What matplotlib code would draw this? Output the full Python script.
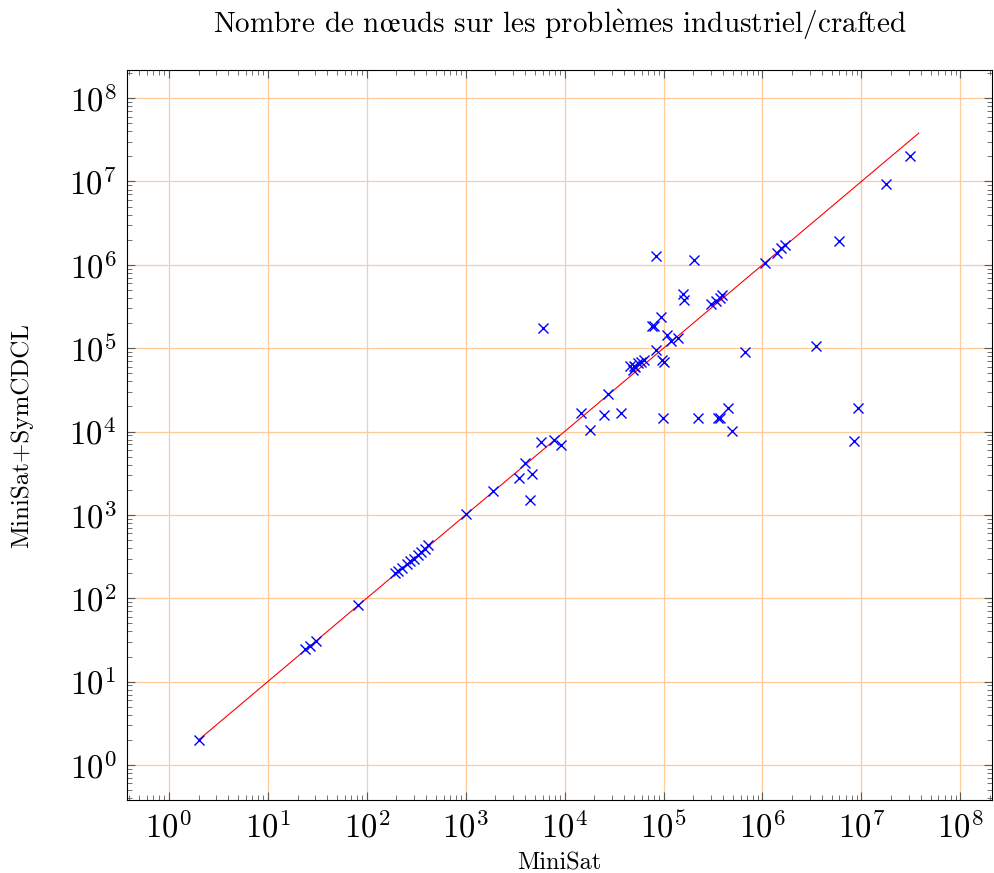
import matplotlib
matplotlib.use('Agg')
import matplotlib.pyplot as plt
import matplotlib.ticker as mticker
import numpy as np

plt.rcParams['mathtext.fontset'] = 'cm'
plt.rcParams['font.family'] = ['cmr10', 'DejaVu Serif']
plt.rcParams['axes.formatter.use_mathtext'] = True

# noeuds explores : MiniSat (x) contre MiniSat+SymCDCL (y)
minisat = [2, 24, 27, 31, 81,
           195, 205, 225, 255, 275, 300, 330, 355, 385, 420,
           1000, 1870, 3450, 4000, 4450, 4700, 5800, 6100, 7800, 9100,
           14600, 17900, 25000, 27600, 37000,
           45700, 48600, 50000, 52000, 55000, 59000, 63000,
           76000, 80000, 83000, 83000, 94000, 96000, 100000, 98000,
           108000, 118000, 139000, 156000, 160000, 201000, 223000,
           302000, 340000, 370000, 390000, 355000, 370000, 445000, 490000,
           660000, 1.05e6, 1.4e6, 1.55e6, 1.68e6, 3.45e6, 5.9e6,
           8.5e6, 9.3e6, 1.78e7, 3.1e7]
symcdcl = [2, 24.5, 27, 31, 82,
           200, 210, 230, 255, 280, 300, 330, 360, 390, 430,
           1030, 1930, 2740, 4150, 1490, 3100, 7400, 175000, 7900, 6900,
           16700, 10400, 15900, 28600, 16700,
           60600, 54500, 62000, 59000, 66000, 69000, 72000,
           186000, 186000, 96000, 1.26e6, 240000, 72000, 69000, 14700,
           145000, 122000, 134000, 445000, 378000, 1.14e6, 14700,
           340000, 370000, 405000, 435000, 14400, 14700, 19400, 10200,
           91000, 1.04e6, 1.4e6, 1.58e6, 1.72e6, 1.07e5, 1.91e6,
           7600, 19400, 9.4e6, 2.0e7]
diag = [2, 3.8e7]

fig = plt.figure(figsize=(9.94, 8.73), dpi=100)
ax = fig.add_axes([0.128, 0.0836, 0.87, 0.836])

ax.set_xscale('log')
ax.set_yscale('log')
ax.set_xlim(10**-0.42, 10**8.32)
ax.set_ylim(10**-0.42, 10**8.335)

ax.plot(diag, diag, color='red', lw=0.8, zorder=3)
ax.plot(minisat, symcdcl, 'x', color='blue', ms=6.5, mew=1.0, zorder=4)

ticks = [10**i for i in range(0, 9)]
fmt = mticker.FuncFormatter(lambda v, p: r'$10^{%d}$' % round(np.log10(v)))
for axis in (ax.xaxis, ax.yaxis):
    axis.set_major_locator(mticker.FixedLocator(ticks))
    axis.set_major_formatter(fmt)
    axis.set_minor_locator(mticker.LogLocator(base=10, subs=np.arange(2, 10), numticks=30))
    axis.set_minor_formatter(mticker.NullFormatter())

ax.tick_params(which='both', direction='in', top=True, right=True, color='0.35')
ax.tick_params(which='major', length=6, width=0.8, labelsize=23.5, pad=8)
ax.tick_params(which='minor', length=3.5, width=0.6)

ax.grid(which='major', color='#ffcc99', lw=0.9)
ax.set_axisbelow(True)
for s in ax.spines.values():
    s.set_linewidth(0.8)

title = r'Nombre de n$\mathrm{\oe}$uds sur les probl$\mathrm{\grave{e}}$mes industriel/crafted'
ax.set_title(title, fontsize=21, pad=27)
ax.set_xlabel('MiniSat', fontsize=17.5, labelpad=6)
ax.set_ylabel('MiniSat+SymCDCL', fontsize=18, labelpad=26)

fig.savefig('out.png', dpi=100)
